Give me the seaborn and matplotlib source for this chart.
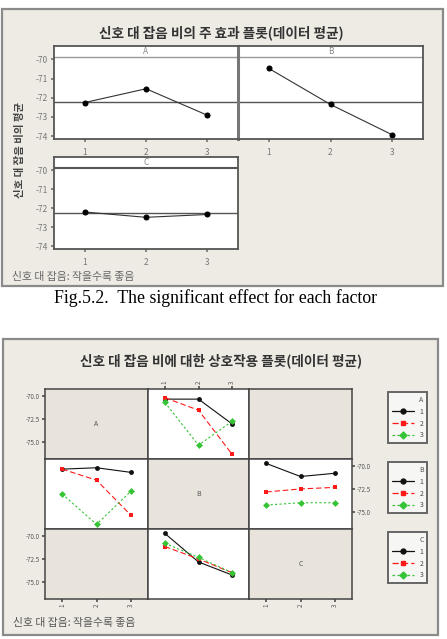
import matplotlib
matplotlib.use("Agg")
import matplotlib.pyplot as plt
from matplotlib.patches import Rectangle
from matplotlib.lines import Line2D
import seaborn as sns
import pandas as pd

# ---------------- data ----------------
levels = [1, 2, 3]
main_A = [-72.25, -71.53, -72.91]
main_B = [-70.47, -72.35, -73.93]
main_C = [-72.20, -72.48, -72.33]
grand_mean = -72.24
main_yticks = [-70, -71, -72, -73, -74]

# interaction means: ab[A-1][B-1], bc[B-1][C-1]
ab_means = [[-70.30, -70.30, -73.00],
            [-70.15, -71.50, -76.30],
            [-70.65, -75.30, -72.70]]
bc_means = [[-69.68, -71.10, -70.75],
            [-72.78, -72.45, -72.28],
            [-74.20, -73.95, -73.95]]
inter_yticks = [-70.0, -72.5, -75.0]
level_labels = ["1", "2", "3"]

title_main = "신호 대 잡음 비의 주 효과 플롯(데이터 평균)"
title_inter = "신호 대 잡음 비에 대한 상호작용 플롯(데이터 평균)"
ylabel_main = "신호 대 잡음 비의 평균"
footnote = "신호 대 잡음: 작을수록 좋음"
caption = "Fig.5.2.  The significant effect for each factor"

# ---------------- setup ----------------
sns.set_theme(style="white")
plt.rcParams['font.family'] = ['Noto Sans CJK KR', 'DejaVu Sans']
plt.rcParams['axes.unicode_minus'] = False

W, H = 447, 639
fig = plt.figure(figsize=(W / 100, H / 100), dpi=100)
fig.patch.set_facecolor("white")

def box(x0, y0, x1, y1):
    return [x0 / W, 1 - y1 / H, (x1 - x0) / W, (y1 - y0) / H]

def fx(x):
    return x / W

def fy(y):
    return 1 - y / H

BG = "#EEEBE4"
CELLGRAY = "#E8E4DC"
TXT = "#555555"

for (x0, y0, x1, y1) in [(2, 9, 443, 286), (3, 339, 438, 635)]:
    fig.patches.append(Rectangle((x0 / W, 1 - y1 / H), (x1 - x0) / W, (y1 - y0) / H,
                                 transform=fig.transFigure, facecolor=BG,
                                 edgecolor="#8A8A8A", linewidth=1.6, zorder=-5))

# ---------------- main effects chart ----------------
fig.text(fx(221), fy(33), title_main, ha="center", va="center", fontsize=9.8,
         weight="bold", color="#333333")
fig.text(fx(20), fy(150), ylabel_main, rotation=90, ha="center", va="center",
         fontsize=7.5, weight="bold", color="#444444")
fig.text(fx(12), fy(277), footnote, ha="left", va="center", fontsize=7.8, color="#666666")

panels = [("A", main_A, (54, 46, 238, 139), True),
          ("B", main_B, (238, 46, 423, 139), False),
          ("C", main_C, (54, 157, 238, 249), True)]
for name, vals, bx, show_y in panels:
    ax = fig.add_axes(box(*bx))
    ax.set_facecolor("white")
    df = pd.DataFrame({"level": levels, "SN": vals})
    sns.lineplot(data=df, x="level", y="SN", ax=ax, color="#333333", linewidth=0.8,
                 marker="o", markersize=3.6, markeredgecolor="black",
                 markerfacecolor="black")
    ax.axhline(grand_mean, color="#555555", linewidth=1.0, zorder=1)
    ax.axhline(-69.87, color="#999999" if name != "C" else "#555555",
               linewidth=1.0 if name != "C" else 1.5, zorder=1)
    ax.text(0.5, 0.94, name, transform=ax.transAxes, ha="center", va="center",
            fontsize=6, color="#888888")
    ax.set_xlim(0.5, 3.5)
    ax.set_ylim(-74.15, -69.3)
    ax.set_xticks(levels)
    ax.set_xticklabels(level_labels)
    ax.set_yticks(main_yticks)
    if show_y:
        ax.set_yticklabels([f"{v:d}" for v in main_yticks])
    else:
        ax.set_yticklabels([])
        ax.tick_params(axis="y", length=0)
    ax.set_xlabel("")
    ax.set_ylabel("")
    ax.tick_params(axis="both", labelsize=6, labelcolor="#777777", length=2.5,
                   color="#777777", direction="out", pad=2)
    ax.tick_params(axis="x", bottom=True, pad=4)
    ax.tick_params(axis="y", left=show_y)
    for sp in ax.spines.values():
        sp.set_color("#555555")
        sp.set_linewidth(1.3)
    if name == "B":
        ax.spines["left"].set_color("#777777")
        ax.spines["left"].set_linewidth(2.2)

fig.text(fx(216), fy(298), caption, ha="center", va="center", fontsize=12.8,
         family="Liberation Serif", color="black")

# ---------------- interaction chart ----------------
fig.text(fx(221), fy(361), title_inter, ha="center", va="center", fontsize=9.8,
         weight="bold", color="#333333")
fig.text(fx(13), fy(623), footnote, ha="left", va="center", fontsize=7.8, color="#555555")

xe = [45, 148, 249, 352]
ye = [389, 459, 529, 599]
palette = {"1": "#111111", "2": "#FF1A1A", "3": "#35C435"}
markers = {"1": "o", "2": "s", "3": "D"}
dashes = {"1": "", "2": (5, 2.5), "3": (2, 2)}

rows = []
for a in range(3):
    for b in range(3):
        rows.append((level_labels[a], b + 1, level_labels[b], a + 1, ab_means[a][b]))
df_ab = pd.DataFrame(rows, columns=["A", "Bnum", "B", "Anum", "SN"])
rows = []
for b in range(3):
    for c in range(3):
        rows.append((level_labels[b], c + 1, level_labels[c], b + 1, bc_means[b][c]))
df_bc = pd.DataFrame(rows, columns=["B", "Cnum", "C", "Bnum", "SN"])

cell_plots = {
    (0, 1): (df_ab, "Bnum", "A"),
    (1, 0): (df_ab, "Anum", "B"),
    (1, 2): (df_bc, "Cnum", "B"),
    (2, 1): (df_bc, "Bnum", "C"),
}
diag = {(0, 0): "A", (1, 1): "B", (2, 2): "C"}

for r in range(3):
    for c in range(3):
        ax = fig.add_axes(box(xe[c], ye[r], xe[c + 1], ye[r + 1]))
        ax.set_xlim(0.5, 3.5)
        ax.set_ylim(-76.8, -69.2)
        ax.set_xticks([])
        ax.set_yticks([])
        for sp in ax.spines.values():
            sp.set_color("#444444")
            sp.set_linewidth(1.1)
        if (r, c) in cell_plots:
            ax.set_facecolor("white")
            d, xcol, hcol = cell_plots[(r, c)]
            sns.lineplot(data=d, x=xcol, y="SN", hue=hcol, style=hcol,
                         hue_order=level_labels, style_order=level_labels,
                         palette=palette, markers=markers, dashes=dashes,
                         markersize=3.5, linewidth=0.8, markeredgewidth=0,
                         legend=False, ax=ax)
            ax.set_xlabel("")
            ax.set_ylabel("")
        else:
            ax.set_facecolor(CELLGRAY)
            if (r, c) in diag:
                ax.text(0.5, 0.5, diag[(r, c)], transform=ax.transAxes, ha="center",
                        va="center", fontsize=5, color="#555555")
        tick_kw = dict(labelsize=4.5, labelcolor=TXT, color=TXT, length=2, pad=1.5)
        if r == 0 and c == 1:
            ax.xaxis.tick_top()
            ax.set_xticks(levels)
            ax.set_xticklabels(level_labels, rotation=90)
            ax.tick_params(axis="x", top=True, **tick_kw)
        if r == 2 and c in (0, 2):
            ax.set_xticks(levels)
            ax.set_xticklabels(level_labels, rotation=90)
            ax.tick_params(axis="x", bottom=True, **tick_kw)
        if c == 0 and r in (0, 2):
            ax.set_yticks(inter_yticks)
            ax.set_yticklabels([f"{v:.1f}" for v in inter_yticks])
            ax.tick_params(axis="y", left=True, **tick_kw)
        if c == 2 and r == 1:
            ax.yaxis.tick_right()
            ax.set_yticks(inter_yticks)
            ax.set_yticklabels([f"{v:.1f}" for v in inter_yticks])
            ax.tick_params(axis="y", right=True, **tick_kw)

# legends
legend_tops = {"A": 389, "B": 459, "C": 529}
for name, top in legend_tops.items():
    handles = [Line2D([0], [0], color=palette[k], marker=markers[k], markersize=3.5,
                      linewidth=0.9,
                      linestyle="-" if k == "1" else ((0, (5, 2.5)) if k == "2" else (0, (2, 2))))
               for k in level_labels]
    leg = fig.legend(handles, level_labels, title=name, loc="upper left",
                     bbox_to_anchor=(fx(385), fy(top)), fontsize=5, title_fontsize=5,
                     handlelength=3.2, handletextpad=0.8, labelspacing=0.55,
                     borderpad=0.5, frameon=True, fancybox=False, framealpha=1,
                     alignment="right")
    fr = leg.get_frame()
    fr.set_facecolor("#F6F6F4")
    fr.set_edgecolor("#666666")
    fr.set_linewidth(1.4)
    leg.get_title().set_color(TXT)
    for t in leg.get_texts():
        t.set_color("#444444")

fig.savefig("out.png", dpi=100, facecolor="white")
